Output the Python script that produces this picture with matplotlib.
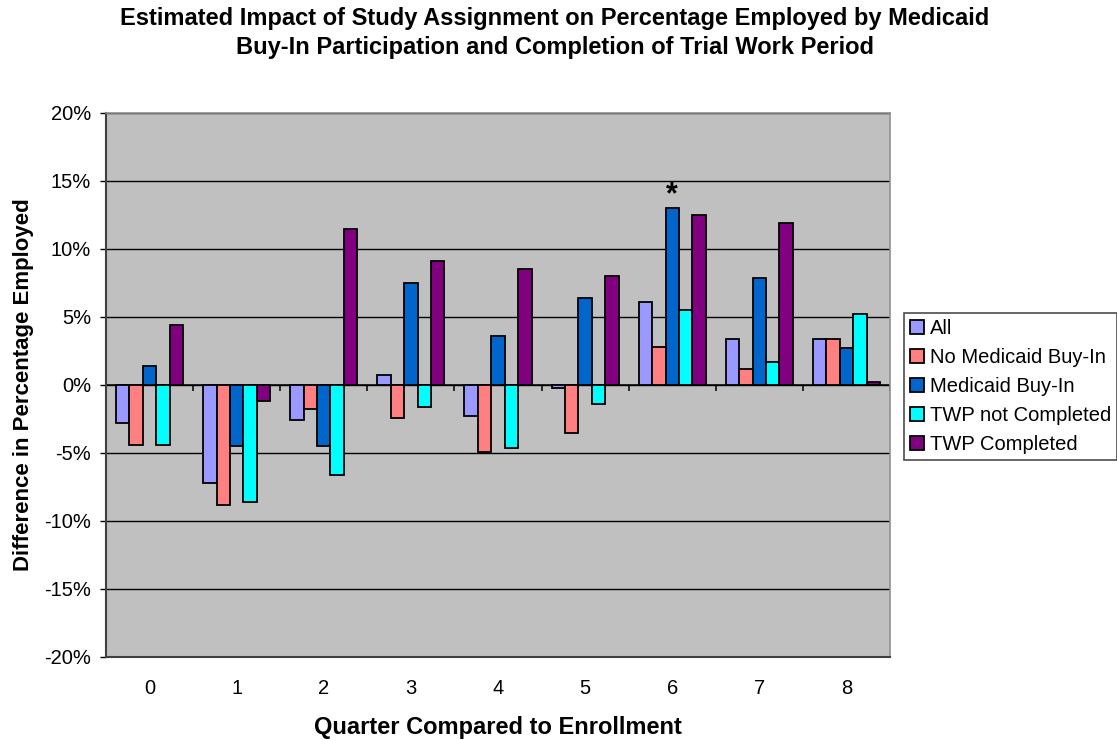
import numpy as np
import matplotlib
matplotlib.use("Agg")
import matplotlib.pyplot as plt
from matplotlib.ticker import FuncFormatter, MultipleLocator

plt.rcParams['font.family'] = ['Liberation Sans', 'DejaVu Sans']

quarters = ['0', '1', '2', '3', '4', '5', '6', '7', '8']
series_names = ['All', 'No Medicaid Buy-In', 'Medicaid Buy-In',
                'TWP not Completed', 'TWP Completed']
all_vals = [-2.8, -7.2, -2.6, 0.7, -2.3, -0.2, 6.1, 3.4, 3.4]
no_buyin = [-4.4, -8.8, -1.8, -2.4, -4.9, -3.5, 2.8, 1.2, 3.4]
buyin = [1.4, -4.5, -4.5, 7.5, 3.6, 6.4, 13.0, 7.9, 2.7]
twp_not = [-4.4, -8.6, -6.6, -1.6, -4.6, -1.4, 5.5, 1.7, 5.2]
twp_done = [4.4, -1.2, 11.5, 9.1, 8.5, 8.0, 12.5, 11.9, 0.2]
colors = ['#9999FF', '#FF8080', '#0066CC', '#00FFFF', '#800080']

# significance marker: series index and quarter index
star_series, star_quarter = 2, 6

W, H = 1117, 740
fig = plt.figure(figsize=(W / 100, H / 100), dpi=100)
ax = fig.add_axes([106 / W, (H - 657) / H, 784 / W, 544 / H])
ax.set_facecolor('#C0C0C0')

data = [all_vals, no_buyin, buyin, twp_not, twp_done]
x = np.arange(len(quarters))
bw = 1 / 6.5
for i, (vals, c, name) in enumerate(zip(data, colors, series_names)):
    offs = (i - 2) * bw
    ax.bar(x + offs, np.array(vals) / 100, width=bw, color=c,
           edgecolor='black', linewidth=1.3, label=name, zorder=3)

star_x = x[star_quarter] + (star_series - 2) * bw
star_y = data[star_series][star_quarter] / 100
ax.text(star_x, star_y - 0.0015, '*', ha='center', va='bottom',
        fontsize=22, fontweight='bold', zorder=4)

ax.set_xlim(-0.5, len(quarters) - 0.5)
ax.set_ylim(-0.20, 0.20)
ax.yaxis.set_major_locator(MultipleLocator(0.05))
ax.yaxis.set_major_formatter(FuncFormatter(lambda v, p: f'{v * 100:.0f}%'))
ax.grid(axis='y', color='black', linewidth=1.0, zorder=1)
ax.set_axisbelow(True)

# category axis line at zero with tick marks between quarters
ax.axhline(0, color='black', linewidth=1.1, zorder=2)
ax.vlines(np.arange(len(quarters) + 1) - 0.5, -0.0044, 0, color='black',
          linewidth=1.1, zorder=2)

ax.set_xticks(x)
ax.set_xticklabels(quarters)
ax.tick_params(axis='x', length=0, pad=16, labelsize=14.5)
ax.tick_params(axis='y', length=4.3, width=1, direction='out',
               labelsize=14.5, pad=6.5, color='black')
for s in ax.spines.values():
    s.set_color('#909090')
    s.set_linewidth(1.2)
ax.spines['left'].set_color('#404040')
ax.spines['bottom'].set_color('#404040')
ax.spines['left'].set_linewidth(1.5)
ax.spines['bottom'].set_linewidth(1.5)

ax.set_xlabel('Quarter Compared to Enrollment', fontsize=17,
              fontweight='bold')
ax.xaxis.set_label_coords(0.5, (657 - 716) / 544)
ax.set_ylabel('Difference in Percentage Employed', fontsize=16,
              fontweight='bold')
ax.yaxis.set_label_coords((34 - 106) / 784, 0.5)

fig.text(555 / W, 1 - 33 / H,
         'Estimated Impact of Study Assignment on Percentage Employed by Medicaid\n'
         'Buy-In Participation and Completion of Trial Work Period',
         ha='center', va='center', fontsize=17, fontweight='bold',
         linespacing=1.34)

leg = ax.legend(loc='upper left', bbox_to_anchor=(904 / W, 1 - 313 / H),
                bbox_transform=fig.transFigure, fontsize=14.5, frameon=True,
                fancybox=False, edgecolor='#202020', borderaxespad=0,
                handlelength=0.7, handleheight=0.7, handletextpad=0.3,
                labelspacing=0.5, borderpad=0.3)
leg.get_frame().set_linewidth(1.2)

fig.savefig('out.png', dpi=100)
